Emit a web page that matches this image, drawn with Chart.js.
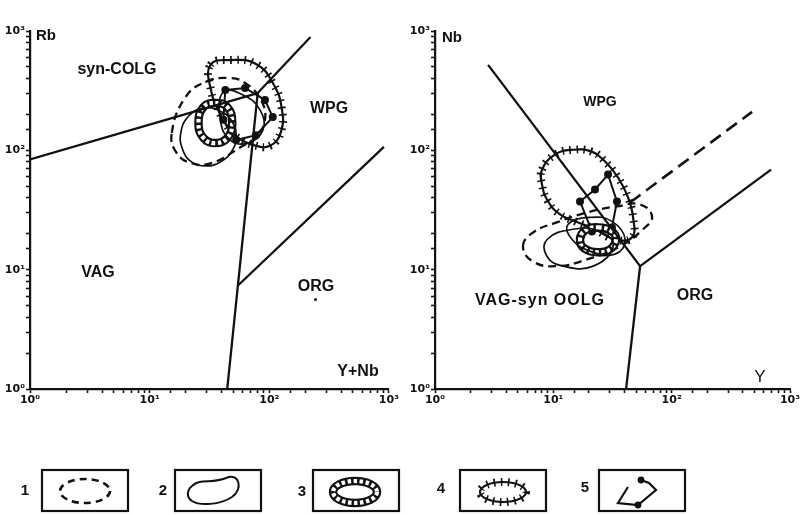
<!DOCTYPE html>
<html>
<head>
<meta charset="utf-8">
<script src="https://cdn.jsdelivr.net/npm/chart.js@4.4.0/dist/chart.umd.min.js"></script>
<style>
  html, body { margin: 0; padding: 0; background: #fff; }
  body { width: 804px; height: 515px; overflow: hidden; position: relative;
         font-family: "Liberation Sans", Arial, sans-serif; color: #111; }
  canvas { position: absolute; }
  #rbChart { left: 0; top: 0; }
  #nbChart { left: 400px; top: 0; }
  #legendCanvas { left: 0; top: 455px; }
  .lbl { position: absolute; font-weight: bold; font-size: 16px; line-height: 1;
         transform: translate(-50%, -50%); white-space: nowrap; }
  .num { position: absolute; font-weight: bold; font-size: 15px; line-height: 1;
         transform: translate(-50%, -50%); }
  .dot { position: absolute; width: 3px; height: 3px; background: #111; border-radius: 50%; }
</style>
</head>
<body>
<canvas id="rbChart" width="400" height="420"></canvas>
<canvas id="nbChart" width="404" height="420"></canvas>
<canvas id="legendCanvas" width="804" height="60"></canvas>

<!-- Rb – (Y+Nb) diagram labels -->
<div class="lbl" style="left:46px;top:34px;font-size:15px">Rb</div>
<div class="lbl" style="left:117px;top:69px">syn-COLG</div>
<div class="lbl" style="left:329px;top:108px">WPG</div>
<div class="lbl" style="left:98px;top:272px">VAG</div>
<div class="lbl" style="left:316px;top:286px">ORG</div>
<div class="dot" style="left:314px;top:298px"></div>
<div class="lbl" style="left:358px;top:371px">Y+Nb</div>

<!-- Nb – Y diagram labels -->
<div class="lbl" style="left:452px;top:36px;font-size:15px">Nb</div>
<div class="lbl" style="left:600px;top:101px;font-size:14px">WPG</div>
<div class="lbl" style="left:540px;top:300px;letter-spacing:1px">VAG-syn OOLG</div>
<div class="lbl" style="left:695px;top:295px">ORG</div>
<div class="lbl" style="left:760px;top:376px;font-size:17px;font-weight:normal">Y</div>

<!-- legend numbers -->
<div class="num" style="left:25px;top:489px">1</div>
<div class="num" style="left:163px;top:489px">2</div>
<div class="num" style="left:302px;top:490px">3</div>
<div class="num" style="left:441px;top:487px">4</div>
<div class="num" style="left:585px;top:486px">5</div>

<script>
// ---------- Rb vs (Y+Nb): field boundaries ----------
const rbSynColVagX = [1, 80];      const rbSynColVagY = [84, 302];
const rbWpgVagX    = [80, 44.5];   const rbWpgVagY    = [302, 1];
const rbSynColWpgX = [80, 221];    const rbSynColWpgY = [302, 891];
const rbWpgOrgX    = [55, 908];    const rbWpgOrgY    = [7.4, 107];

// ---------- Rb vs (Y+Nb): outlines of the rock groups ----------
const rbDashedX = [15.3, 20.0, 29.3, 45.4, 62.8, 85.2, 92.0, 77.4, 58.2, 32.8, 22.4, 16.8];
const rbDashedY = [140, 280, 374, 404, 367, 264, 180, 129, 107, 78, 78, 95];
const rbSolidX  = [28.2, 21.2, 18.2, 18.9, 22.4, 29.8, 39.0, 48.1, 52.8, 49.0, 39.0];
const rbSolidY  = [226, 194, 140, 101, 80, 74, 80, 97, 127, 173, 213];
const rbSolid2X = [41.3, 60.4, 83.6, 88.5, 66.5, 47.2, 39.0];
const rbSolid2Y = [308, 291, 218, 148, 115, 122, 180];
const rbLadderX = [35.4, 44.5, 49.0, 44.5, 35.4, 28.2, 25.6, 28.2];
const rbLadderY = [249, 231, 169, 127, 115, 127, 169, 231];
const rbHairyX  = [32.2, 48.1, 77.4, 107, 127, 125, 101, 73.1, 55.0, 43.7, 37.5, 32.8];
const rbHairyY  = [519, 571, 529, 367, 226, 142, 109, 111, 127, 163, 218, 308];
const rbChainX  = [42.9, 62.8, 92.0, 107, 77.4, 52.8, 41.3];
const rbChainY  = [320, 333, 264, 190, 134, 122, 180];

// ---------- Nb vs Y: field boundaries ----------
const nbWpgVagX  = [2.81, 54.1];  const nbWpgVagY  = [520, 10.7];
const nbVagOrgX  = [54.1, 41.2];  const nbVagOrgY  = [10.7, 1];
const nbWpgOrgX  = [54.1, 692];   const nbWpgOrgY  = [10.7, 69];
const nbDashedBX = [44.5, 478];   const nbDashedBY = [36.6, 210];

// ---------- Nb vs Y: outlines of the rock groups ----------
const nbDashedX = [5.54, 6.74, 10.7, 19.3, 34.5, 54.1, 68.3, 57.3, 36.6, 19.3, 10.7, 6.74];
const nbDashedY = [15.7, 20.5, 24.9, 30.2, 33.9, 35.2, 27.9, 21.8, 15.7, 12.2, 10.7, 11.7];
const nbSolidX  = [8.85, 14.7, 24.8, 32.0, 21.7, 12.1, 8.85];
const nbSolidY  = [17.9, 21.8, 20.9, 15.7, 10.7, 10.7, 12.9];
const nbSolid2X = [13.3, 20.4, 31.3, 40.4, 33.2, 20.4, 14.4];
const nbSolid2Y = [23.9, 27.4, 25.4, 17.9, 13.5, 14.3, 17.9];
const nbLadderX = [23.9, 31.3, 33.9, 30.1, 23.9, 18.2, 16.8, 18.5];
const nbLadderY = [22.6, 20.9, 17.9, 14.8, 14.0, 15.1, 17.9, 21.3];
const nbHairyX  = [8.03, 10.3, 14.4, 21.2, 27.4, 35.2, 42.8, 47.2, 46.3, 33.2, 22.5, 15.3, 11.4, 9.02, 8.03];
const nbHairyY  = [69, 92, 101, 97.5, 80.5, 59.2, 40.3, 27.4, 18.7, 17.9, 21.8, 25.4, 29.0, 37.3, 51.6];
const nbChainX  = [16.8, 22.5, 29.0, 34.5, 31.3, 21.2];
const nbChainY  = [37.3, 47.0, 62.6, 37.3, 22.6, 20.9];

// axis tick labels (decades)
const decadeValues = [1, 10, 100, 1000];
const decadeLabels = ['10\u2070', '10\u00B9', '10\u00B2', '10\u00B3'];

const INK = '#111';
const pts = (xs, ys) => xs.map((x, i) => ({ x, y: ys[i] }));

// line styles for each kind of outline
function styled(kind, data) {
  const base = { data, showLine: true, borderColor: INK, pointRadius: 0, fill: false };
  switch (kind) {
    case 'bound':
      return [{ ...base, borderWidth: 2.3, tension: 0 }];
    case 'boundDashed':
      return [{ ...base, borderWidth: 2.6, tension: 0, borderDash: [13, 7] }];
    case 'dashed':
      return [{ ...base, closed: true, borderWidth: 2.3, tension: 0.45, borderDash: [8, 5] }];
    case 'solid':
      return [{ ...base, closed: true, borderWidth: 1.7, tension: 0.45 }];
    case 'ladder':
      return [
        { ...base, closed: true, borderWidth: 4.2, tension: 0.45, borderColor: '#fff', borderDash: [3.5, 2.5], order: 0 },
        { ...base, closed: true, borderWidth: 8.5, tension: 0.45, order: 1 }
      ];
    case 'hairy':
      return [
        { ...base, closed: true, borderWidth: 2.2, tension: 0.45 },
        { ...base, closed: true, borderWidth: 8, tension: 0.45, borderDash: [1.6, 5.5] }
      ];
    case 'chain':
      return [{ ...base, closed: true, borderWidth: 2, tension: 0, pointRadius: 3,
                pointBackgroundColor: INK, pointBorderColor: INK }];
  }
}

// closes outline datasets into smooth loops
const closeLoops = {
  id: 'closeLoops',
  afterDatasetUpdate(chart, args) {
    const ds = chart.data.datasets[args.index];
    const line = args.meta.dataset;
    if (ds.closed && line) { line._loop = true; line._fullLoop = true; }
  }
};

function decadeLabel(v) {
  const i = decadeValues.findIndex(d => Math.abs(d - v) < 1e-9 * d);
  return i >= 0 ? decadeLabels[i] : '';
}

function logAxis(pos, size) {
  return {
    type: 'logarithmic', position: pos, min: 1, max: 1000,
    border: { display: true, color: INK, width: 2.2 },
    grid: { display: true, drawOnChartArea: false, drawTicks: true, tickLength: 4,
            tickWidth: 1.6, tickColor: INK, color: INK },
    ticks: { autoSkip: false, maxRotation: 0, minRotation: 0, color: INK, padding: 1,
             font: { family: '"DejaVu Sans"', size: 11, weight: 'bold' }, callback: decadeLabel },
    afterFit(s) { if (pos === 'bottom') s.height = size; else s.width = size; }
  };
}

function makeChart(id, datasets, yAxisWidth, rightPad) {
  return new Chart(document.getElementById(id), {
    type: 'scatter',
    data: { datasets },
    options: {
      responsive: false, animation: false, events: [],
      layout: { padding: { top: 31, right: rightPad, left: 0, bottom: 0 } },
      plugins: { legend: { display: false }, tooltip: { enabled: false } },
      scales: { x: logAxis('bottom', 31), y: logAxis('left', yAxisWidth) }
    },
    plugins: [closeLoops]
  });
}

makeChart('rbChart', [
  ...styled('bound', pts(rbSynColVagX, rbSynColVagY)),
  ...styled('bound', pts(rbWpgVagX, rbWpgVagY)),
  ...styled('bound', pts(rbSynColWpgX, rbSynColWpgY)),
  ...styled('bound', pts(rbWpgOrgX, rbWpgOrgY)),
  ...styled('dashed', pts(rbDashedX, rbDashedY)),
  ...styled('solid', pts(rbSolidX, rbSolidY)),
  ...styled('solid', pts(rbSolid2X, rbSolid2Y)),
  ...styled('ladder', pts(rbLadderX, rbLadderY)),
  ...styled('hairy', pts(rbHairyX, rbHairyY)),
  ...styled('chain', pts(rbChainX, rbChainY))
], 30, 8);

makeChart('nbChart', [
  ...styled('bound', pts(nbWpgVagX, nbWpgVagY)),
  ...styled('bound', pts(nbVagOrgX, nbVagOrgY)),
  ...styled('bound', pts(nbWpgOrgX, nbWpgOrgY)),
  ...styled('boundDashed', pts(nbDashedBX, nbDashedBY)),
  ...styled('dashed', pts(nbDashedX, nbDashedY)),
  ...styled('solid', pts(nbSolidX, nbSolidY)),
  ...styled('solid', pts(nbSolid2X, nbSolid2Y)),
  ...styled('ladder', pts(nbLadderX, nbLadderY)),
  ...styled('hairy', pts(nbHairyX, nbHairyY)),
  ...styled('chain', pts(nbChainX, nbChainY))
], 35, 14);

// ---------- legend: one framed symbol per outline style ----------
(function drawLegend() {
  const ctx = document.getElementById('legendCanvas').getContext('2d');
  ctx.translate(0, -455);
  ctx.strokeStyle = INK; ctx.fillStyle = INK; ctx.lineCap = 'butt';

  const boxLeft = [42, 175, 313, 460, 599];
  ctx.lineWidth = 2.2;
  boxLeft.forEach(x => ctx.strokeRect(x, 470, 86, 41));

  // 1: dashed
  ctx.lineWidth = 2.6; ctx.setLineDash([7, 5]);
  ctx.beginPath(); ctx.ellipse(85, 491, 25, 12, 0, 0, Math.PI * 2); ctx.stroke();
  ctx.setLineDash([]);

  // 2: solid
  ctx.lineWidth = 2;
  ctx.beginPath();
  ctx.moveTo(192, 486);
  ctx.bezierCurveTo(200, 478, 212, 484, 226, 478);
  ctx.bezierCurveTo(240, 472, 243, 490, 232, 497);
  ctx.bezierCurveTo(220, 505, 200, 506, 192, 501);
  ctx.bezierCurveTo(186, 497, 187, 490, 192, 486);
  ctx.stroke();

  // 3: ladder
  ctx.lineWidth = 8.5;
  ctx.beginPath(); ctx.ellipse(355, 492, 22, 11, 0, 0, Math.PI * 2); ctx.stroke();
  ctx.strokeStyle = '#fff'; ctx.lineWidth = 4.2; ctx.setLineDash([3.5, 2.5]);
  ctx.beginPath(); ctx.ellipse(355, 492, 22, 11, 0, 0, Math.PI * 2); ctx.stroke();
  ctx.setLineDash([]); ctx.strokeStyle = INK;

  // 4: hairy
  ctx.lineWidth = 2.2;
  ctx.beginPath(); ctx.ellipse(503, 492, 23, 10, 0, 0, Math.PI * 2); ctx.stroke();
  ctx.lineWidth = 8; ctx.setLineDash([1.6, 5.5]);
  ctx.beginPath(); ctx.ellipse(503, 492, 23, 10, 0, 0, Math.PI * 2); ctx.stroke();
  ctx.setLineDash([]);

  // 5: chain with dots
  const chain = [[641, 480], [649, 483], [656, 490], [638, 505], [618, 503], [628, 487]];
  ctx.lineWidth = 2.2;
  ctx.beginPath();
  chain.forEach(([x, y], i) => i ? ctx.lineTo(x, y) : ctx.moveTo(x, y));
  ctx.stroke();
  [[641, 480], [638, 505]].forEach(([x, y]) => {
    ctx.beginPath(); ctx.arc(x, y, 3.4, 0, Math.PI * 2); ctx.fill();
  });
})();
</script>
</body>
</html>
